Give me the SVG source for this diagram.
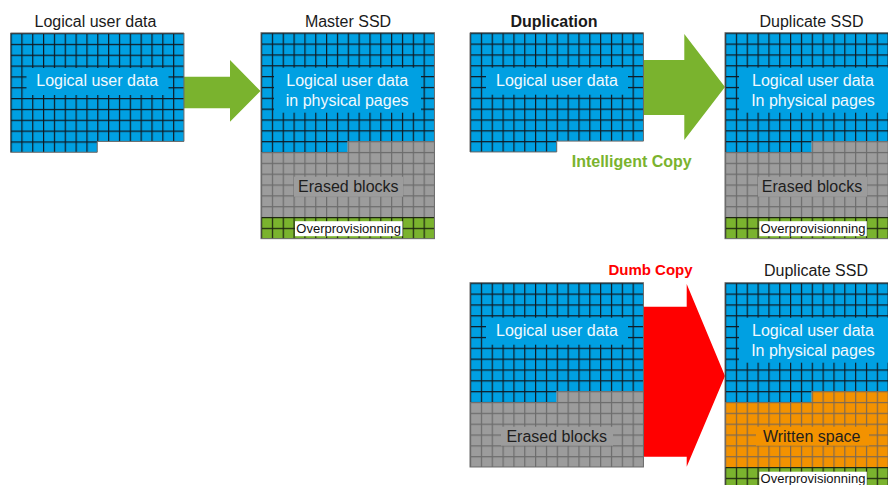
<svg xmlns="http://www.w3.org/2000/svg" width="888" height="485" viewBox="0 0 888 485">
<style>
text{font-family:"Liberation Sans",Arial,sans-serif;font-size:16px;text-anchor:middle}
.title{fill:#1a1a1a}
.bold{font-weight:bold}
.lbl{fill:#f2f9fd}
.dark{fill:#1e1e1e}
.small{font-size:13px;fill:#111}
.border{fill:none;stroke:#6a6a6a;stroke-width:1}
.bluebox{fill:#00A0E2}
.graybox{fill:#9C9C9C}
.orangebox{fill:#F39200}
.white{fill:#ffffff}
</style>
<defs>
<pattern id="pBlue" patternUnits="userSpaceOnUse" width="10.84" height="10.84">
<rect width="10.84" height="10.84" fill="#00A0E2"/>
<path d="M0.6,0V10.84M0,0.6H10.84" stroke="#101820" stroke-width="1.2"/>
</pattern>
<pattern id="pGray" patternUnits="userSpaceOnUse" width="10.84" height="10.84">
<rect width="10.84" height="10.84" fill="#9C9C9C"/>
<path d="M0.6,0V10.84M0,0.6H10.84" stroke="#6c6c6c" stroke-width="1.2"/>
</pattern>
<pattern id="pGreen" patternUnits="userSpaceOnUse" width="10.84" height="10.84">
<rect width="10.84" height="10.84" fill="#7AB32E"/>
<path d="M0.6,0V10.84M0,0.6H10.84" stroke="#1c2410" stroke-width="1.2"/>
</pattern>
<pattern id="pOrange" patternUnits="userSpaceOnUse" width="10.84" height="10.84">
<rect width="10.84" height="10.84" fill="#F39200"/>
<path d="M0.6,0V10.84M0,0.6H10.84" stroke="#7f6a52" stroke-width="1.2"/>
</pattern>
<polygon id="blueArea" points="0,0 173.44,0 173.44,108.4 86.72,108.4 86.72,119.24 0,119.24"/>
<polygon id="lowerArea17" points="86.72,108.4 173.44,108.4 173.44,184.28 0,184.28 0,119.24 86.72,119.24"/>
</defs>

<g id="connectors">
<polygon fill="#7AB32E" points="183.5,76.7 230,76.7 230,60 260.5,91 230,121.7 230,108.3 183.5,108.3"/>
<polygon fill="#7AB32E" points="643.3,60 684.3,60 684.3,34 725,87 684.3,140 684.3,115 643.3,115"/>
<polygon fill="#FF0000" points="643.3,306.7 686.7,306.7 686.7,284 725,376 686.7,466.7 686.7,456.7 643.3,456.7"/>
<text class="bold" x="631.7" y="166.5" fill="#7AB32E">Intelligent Copy</text>
<text class="bold" x="650.5" y="275" fill="#FF0000" style="font-size:15px">Dumb Copy</text>
</g>

<g id="logical-user-data">
<text class="title" x="95.5" y="26.5">Logical user data</text>
<g transform="translate(10.5,33)">
<use href="#blueArea" fill="url(#pBlue)"/>
<use href="#blueArea" class="border"/>
<rect class="bluebox" x="16" y="35" width="142" height="27"/>
<text class="lbl" x="86.7" y="53">Logical user data</text>
</g>
</g>

<g id="master-ssd">
<text class="title" x="348" y="26.5">Master SSD</text>
<g transform="translate(261,32.7)">
<use href="#blueArea" fill="url(#pBlue)"/>
<use href="#lowerArea17" fill="url(#pGray)"/>
<rect x="0" y="184.28" width="173.44" height="21.68" fill="url(#pGreen)"/>
<rect class="border" x="0" y="0" width="173.44" height="205.96"/>
<rect class="bluebox" x="13" y="35" width="147" height="45"/>
<text class="lbl" x="86.2" y="53">Logical user data</text>
<text class="lbl" x="86.2" y="73.5">in physical pages</text>
<rect class="graybox" x="33" y="144" width="109" height="20"/>
<text class="dark" x="87.3" y="159">Erased blocks</text>
<rect class="white" x="34" y="188.5" width="107.5" height="15"/>
<text class="small" x="87.7" y="200.8">Overprovisionning</text>
</g>
</g>

<g id="duplication">
<text class="title bold" x="554" y="26.5">Duplication</text>
<g transform="translate(470,32.7)">
<use href="#blueArea" fill="url(#pBlue)"/>
<use href="#blueArea" class="border"/>
<rect class="bluebox" x="16" y="35" width="142" height="27"/>
<text class="lbl" x="87" y="53">Logical user data</text>
</g>
</g>

<g id="duplicate-ssd-intelligent">
<text class="title" x="811.5" y="26.5">Duplicate SSD</text>
<g transform="translate(725,32.7)">
<use href="#blueArea" fill="url(#pBlue)"/>
<use href="#lowerArea17" fill="url(#pGray)"/>
<rect x="0" y="184.28" width="173.44" height="21.68" fill="url(#pGreen)"/>
<rect class="border" x="0" y="0" width="173.44" height="205.96"/>
<rect class="bluebox" x="14" y="35" width="150" height="45"/>
<text class="lbl" x="88" y="53">Logical user data</text>
<text class="lbl" x="88" y="73.5">In physical pages</text>
<rect class="graybox" x="33" y="144" width="109" height="20"/>
<text class="dark" x="87" y="159">Erased blocks</text>
<rect class="white" x="34.3" y="188.5" width="107.5" height="15"/>
<text class="small" x="88" y="200.8">Overprovisionning</text>
</g>
</g>

<g id="dumb-copy-source">
<g transform="translate(470,282.7)">
<use href="#blueArea" fill="url(#pBlue)"/>
<use href="#lowerArea17" fill="url(#pGray)"/>
<rect class="border" x="0" y="0" width="173.44" height="184.28"/>
<rect class="bluebox" x="16" y="35" width="142" height="27"/>
<text class="lbl" x="87" y="53">Logical user data</text>
<rect class="graybox" x="31" y="144" width="112" height="19"/>
<text class="dark" x="86.7" y="159">Erased blocks</text>
</g>
</g>

<g id="duplicate-ssd-dumb">
<text class="title" x="816" y="275.5">Duplicate SSD</text>
<g transform="translate(725,282.7)">
<use href="#blueArea" fill="url(#pBlue)"/>
<use href="#lowerArea17" fill="url(#pOrange)"/>
<rect x="0" y="184.28" width="173.44" height="21.68" fill="url(#pGreen)"/>
<rect class="border" x="0" y="0" width="173.44" height="205.96"/>
<rect class="bluebox" x="14" y="35" width="150" height="45"/>
<text class="lbl" x="88" y="53">Logical user data</text>
<text class="lbl" x="88" y="73.5">In physical pages</text>
<rect class="orangebox" x="31" y="144" width="113" height="19"/>
<text class="dark" x="86.7" y="159">Written space</text>
<rect class="white" x="34.3" y="189" width="107.5" height="15"/>
<text class="small" x="88" y="200.8">Overprovisionning</text>
</g>
</g>
</svg>
